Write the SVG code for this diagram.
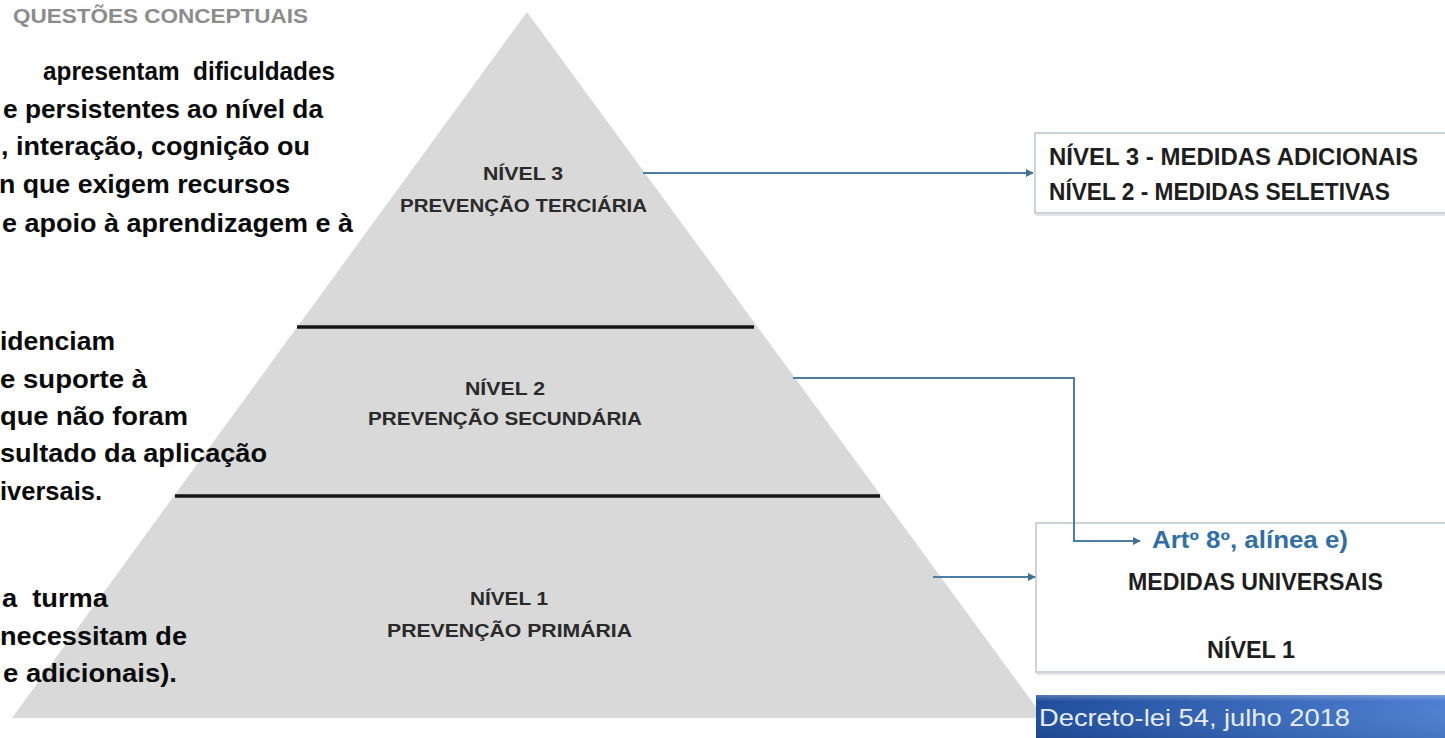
<svg xmlns="http://www.w3.org/2000/svg" width="1445" height="738" viewBox="0 0 1445 738">
<defs>
<style>
.lt{font-family:"Liberation Sans",Arial,sans-serif;font-weight:bold;font-size:26px;fill:#0a0a0a;white-space:pre}
.pl{font-family:"Liberation Sans",Arial,sans-serif;font-weight:bold;font-size:19px;fill:#2a2a2a;text-anchor:start}
.bx{font-family:"Liberation Sans",Arial,sans-serif;font-weight:bold;font-size:23px;fill:#1e1e1e}
.sep{stroke:#141414;stroke-width:3.5;fill:none}
.con{stroke:#4a7ea6;stroke-width:2;fill:none}
.box{fill:#ffffff;stroke:#bcc6cd;stroke-width:1.5}
.shadow{fill:none;stroke:#e2e6e9;stroke-width:2}
</style>
<marker id="arr" viewBox="0 0 10 10" refX="9" refY="5" markerWidth="4" markerHeight="4" orient="auto" markerUnits="strokeWidth">
<path d="M0,0 L10,5 L0,10 z" fill="#3f6f94"/>
</marker>
<linearGradient id="bannerGrad" x1="0" y1="0" x2="1" y2="0">
<stop offset="0" stop-color="#1f4d9c"/>
<stop offset="1" stop-color="#4d7fd2"/>
</linearGradient>
<linearGradient id="bannerTop" x1="0" y1="0" x2="0" y2="1">
<stop offset="0" stop-color="#ffffff" stop-opacity="0.25"/>
<stop offset="0.15" stop-color="#ffffff" stop-opacity="0"/>
<stop offset="1" stop-color="#000000" stop-opacity="0.08"/>
</linearGradient>
</defs>
<rect x="0" y="0" width="1445" height="738" fill="#ffffff"/>

<g id="pyramid">
<polygon points="527,12 12,718 1044,718" fill="#d9d9d9"/>
<line class="sep" x1="297" y1="327" x2="754" y2="327"/>
<line class="sep" x1="175" y1="496" x2="880" y2="496"/>
</g>

<g id="title">
<text x="13" y="23" font-family="'Liberation Sans',Arial,sans-serif" font-weight="bold" font-size="21" fill="#8c8c8c" textLength="295" lengthAdjust="spacingAndGlyphs">QUESTÕES CONCEPTUAIS</text>
</g>

<g id="left-text-nivel3">
<text class="lt" x="43" y="80" textLength="292" lengthAdjust="spacingAndGlyphs">apresentam  dificuldades</text>
<text class="lt" x="3" y="118" textLength="320" lengthAdjust="spacingAndGlyphs">e persistentes ao nível da</text>
<text class="lt" x="1" y="155" textLength="309" lengthAdjust="spacingAndGlyphs">, interação, cognição ou</text>
<text class="lt" x="-1" y="193" textLength="291" lengthAdjust="spacingAndGlyphs">n que exigem recursos</text>
<text class="lt" x="2" y="232" textLength="351" lengthAdjust="spacingAndGlyphs">e apoio à aprendizagem e à</text>
</g>

<g id="left-text-nivel2">
<text class="lt" x="0" y="350" textLength="115" lengthAdjust="spacingAndGlyphs">idenciam</text>
<text class="lt" x="0" y="388" textLength="147" lengthAdjust="spacingAndGlyphs">e suporte à</text>
<text class="lt" x="0" y="425" textLength="188" lengthAdjust="spacingAndGlyphs">que não foram</text>
<text class="lt" x="0" y="462" textLength="267" lengthAdjust="spacingAndGlyphs">sultado da aplicação</text>
<text class="lt" x="0" y="500" textLength="102" lengthAdjust="spacingAndGlyphs">iversais.</text>
</g>

<g id="left-text-nivel1">
<text class="lt" x="2" y="607" textLength="106" lengthAdjust="spacingAndGlyphs">a  turma</text>
<text class="lt" x="0" y="645" textLength="187" lengthAdjust="spacingAndGlyphs">necessitam de</text>
<text class="lt" x="3" y="682" textLength="174" lengthAdjust="spacingAndGlyphs">e adicionais).</text>
</g>

<g id="level3">
<text class="pl" x="483" y="180" textLength="80" lengthAdjust="spacingAndGlyphs">NÍVEL 3</text>
<text class="pl" x="400" y="212" textLength="247" lengthAdjust="spacingAndGlyphs">PREVENÇÃO TERCIÁRIA</text>
</g>
<g id="level2">
<text class="pl" x="465" y="395" textLength="80" lengthAdjust="spacingAndGlyphs">NÍVEL 2</text>
<text class="pl" x="368" y="425" textLength="274" lengthAdjust="spacingAndGlyphs">PREVENÇÃO SECUNDÁRIA</text>
</g>
<g id="level1">
<text class="pl" x="470" y="605" textLength="78" lengthAdjust="spacingAndGlyphs">NÍVEL 1</text>
<text class="pl" x="387" y="637" textLength="245" lengthAdjust="spacingAndGlyphs">PREVENÇÃO PRIMÁRIA</text>
</g>

<g id="box-medidas-adicionais-seletivas">
<rect class="shadow" x="1037" y="135" width="420" height="80"/>
<rect class="box" x="1035" y="133" width="420" height="80"/>
<text class="bx" x="1049" y="165" textLength="369" lengthAdjust="spacingAndGlyphs">NÍVEL 3 - MEDIDAS ADICIONAIS</text>
<text class="bx" x="1049" y="200" textLength="341" lengthAdjust="spacingAndGlyphs">NÍVEL 2 - MEDIDAS SELETIVAS</text>
</g>

<g id="box-medidas-universais">
<rect class="shadow" x="1038" y="525" width="420" height="149"/>
<rect class="box" x="1036" y="523" width="420" height="149"/>
<text x="1152" y="548" font-family="'Liberation Sans',Arial,sans-serif" font-weight="bold" font-size="23" fill="#2f6fa6" textLength="196" lengthAdjust="spacingAndGlyphs">Artº 8º, alínea e)</text>
<text class="bx" x="1128" y="590" textLength="255" lengthAdjust="spacingAndGlyphs">MEDIDAS UNIVERSAIS</text>
<text class="bx" x="1207" y="658" textLength="88" lengthAdjust="spacingAndGlyphs">NÍVEL 1</text>
</g>

<g id="banner-decreto">
<rect x="1036" y="695" width="409" height="43" fill="url(#bannerGrad)"/>
<rect x="1036" y="695" width="409" height="43" fill="url(#bannerTop)"/>
<text x="1039" y="726" font-family="'Liberation Sans',Arial,sans-serif" font-size="24" fill="#e6edf8" textLength="311" lengthAdjust="spacingAndGlyphs">Decreto-lei 54, julho 2018</text>
</g>

<g id="connectors">
<path class="con" d="M643,173 H1033" marker-end="url(#arr)"/>
<path class="con" d="M793,378 H1074 V541 H1140" marker-end="url(#arr)"/>
<path class="con" d="M933,577 H1035" marker-end="url(#arr)"/>
</g>
</svg>
